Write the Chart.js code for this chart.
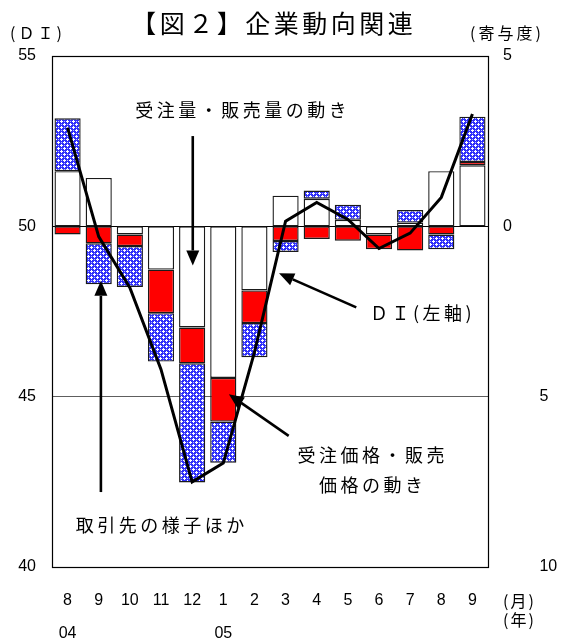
<!DOCTYPE html>
<html>
<head>
<meta charset="utf-8">
<script src="https://cdn.jsdelivr.net/npm/chart.js@4/dist/chart.umd.min.js"></script>
<style>
  html, body { margin: 0; padding: 0; background: #ffffff; }
  #wrap { width: 563px; height: 643px; position: relative; }
</style>
</head>
<body>
<div id="wrap"><canvas id="c" width="563" height="643"></canvas></div>
<script>
// Months (2004/8 - 2005/9) and year markers under them
const months = ['8', '9', '10', '11', '12', '1', '2', '3', '4', '5', '6', '7', '8', '9'];
const years  = ['04', '', '', '', '', '05', '', '', '', '', '', '', '', ''];

// DI (left axis)
const diValues = [52.9, 49.7, 48.2, 45.8, 42.5, 43.05, 46.3, 50.15, 50.7, 50.2, 49.35, 49.8, 50.85, 53.3];

// Contributions (right axis, stacked)
const otherFactors  = [1.62, 1.42, -0.24, -1.27, -2.97, -4.45, -1.88, 0.9, 0.81, 0.19, -0.24, 0.11, 1.62, 1.79];
const priceFactors  = [-0.24, -0.5, -0.34, -1.28, -1.05, -1.28, -0.96, -0.43, -0.37, -0.42, -0.43, -0.71, -0.24, 0.1];
const volumeFactors = [1.55, -1.2, -1.2, -1.42, -3.5, -1.21, -1.0, -0.32, 0.24, 0.44, 0, 0.37, -0.43, 1.33];

// Tick values
const diTicks = [40, 45, 50, 55];
const contribTicks = [-10, -5, 0, 5];

const JP = "'Noto Sans CJK JP', 'Liberation Sans', sans-serif";
const NUM = "'Liberation Sans', 'Noto Sans CJK JP', sans-serif";

// Blue cross-hatch fill for the volume bars
function makeHatch() {
  const t = document.createElement('canvas');
  t.width = 6; t.height = 6;
  const g = t.getContext('2d');
  g.fillStyle = '#3030fa';
  g.fillRect(0, 0, 6, 6);
  g.fillStyle = '#ffffff';
  const plus = [[1,0],[0,1],[1,1],[2,1],[1,2],[4,3],[3,4],[4,4],[5,4],[4,5]];
  plus.forEach(([x, y]) => g.fillRect(x, y, 1, 1));
  g.fillStyle = '#b8b8ff';
  [[4,1],[1,4]].forEach(([x, y]) => g.fillRect(x, y, 1, 1));
  return g.createPattern(t, 'repeat');
}

// Callouts placed in data space: x = category index, y = DI value
const callouts = [
  { lines: ['受注量・販売量の動き'], x: 5.57, y: 53.4, align: 'center',
    arrow: { from: [4.02, 52.65], to: [4.02, 48.85] } },
  { lines: ['ＤＩ(左軸)'], x: 9.71, y: 47.45, align: 'left',
    arrow: { from: [9.27, 47.62], to: [6.79, 48.62] } },
  { lines: ['受注価格・販売', '価格の動き'], x: 9.74, y: 43.28, align: 'center', lineGap: 0.87,
    arrow: { from: [7.1, 43.85], to: [5.18, 45.07] } },
  { lines: ['取引先の様子ほか'], x: 2.97, y: 41.22, align: 'center',
    arrow: { from: [1.07, 42.2], to: [1.07, 48.4] } }
];

function drawArrow(ctx, x1, y1, x2, y2) {
  const ang = Math.atan2(y2 - y1, x2 - x1);
  const hl = 15, hw = 6.5;
  const bx = x2 - Math.cos(ang) * hl, by = y2 - Math.sin(ang) * hl;
  ctx.beginPath();
  ctx.moveTo(x1, y1);
  ctx.lineTo(bx, by);
  ctx.lineWidth = 2.6;
  ctx.strokeStyle = '#000';
  ctx.stroke();
  ctx.beginPath();
  ctx.moveTo(x2, y2);
  ctx.lineTo(bx + Math.sin(ang) * hw, by - Math.cos(ang) * hw);
  ctx.lineTo(bx - Math.sin(ang) * hw, by + Math.cos(ang) * hw);
  ctx.closePath();
  ctx.fillStyle = '#000';
  ctx.fill();
}

function spacedText(ctx, text, x, y, align, spacing) {
  ctx.letterSpacing = spacing + 'px';
  const w = ctx.measureText(text).width - spacing;
  let sx = x;
  if (align === 'center') sx = x - w / 2;
  else if (align === 'right') sx = x - w;
  ctx.textAlign = 'left';
  ctx.fillText(text, sx, y);
  ctx.letterSpacing = '0px';
}

const framePlugin = {
  id: 'frame',
  beforeDatasetsDraw(chart) {
    const { ctx, chartArea: a } = chart;
    ctx.save();
    ctx.strokeStyle = '#000';
    ctx.lineWidth = 1.2;
    ctx.strokeRect(a.left + 0.5, a.top + 0.5, a.right - a.left, a.bottom - a.top);
    ctx.restore();
  },
  afterDraw(chart) {
    const { ctx, chartArea: a } = chart;
    const xs = chart.scales.x, ys = chart.scales.y;
    ctx.save();
    ctx.fillStyle = '#000';
    ctx.textBaseline = 'middle';

    // Title and axis captions
    ctx.font = '25px ' + JP;
    spacedText(ctx, '【図２】企業動向関連', (a.left + a.right) / 2 + 2, 23, 'center', 3.5);
    ctx.font = '16px ' + JP;
    spacedText(ctx, '(ＤＩ)', 10, 33, 'left', 3);
    spacedText(ctx, '(寄与度)', 470, 33, 'left', 3);
    spacedText(ctx, '(月)', a.right + 15, 601, 'left', 2);
    spacedText(ctx, '(年)', a.right + 15, 620, 'left', 2);

    // Callouts
    ctx.font = '18px ' + JP;
    callouts.forEach(c => {
      const px = xs.getPixelForValue(c.x);
      c.lines.forEach((t, i) => {
        const py = ys.getPixelForValue(c.y - i * (c.lineGap || 0));
        spacedText(ctx, t, px, py, c.align, 3.5);
      });
      const f = c.arrow.from, t = c.arrow.to;
      drawArrow(ctx, xs.getPixelForValue(f[0]), ys.getPixelForValue(f[1]),
                xs.getPixelForValue(t[0]), ys.getPixelForValue(t[1]));
    });
    ctx.restore();
  }
};

const barCommon = {
  yAxisID: 'y2',
  stack: 'contrib',
  borderColor: '#1a1a1a',
  borderWidth: 1.4,
  borderSkipped: false,
  barPercentage: 0.84,
  categoryPercentage: 1.0,
  order: 1
};

const ctx = document.getElementById('c').getContext('2d');
new Chart(ctx, {
  type: 'bar',
  data: {
    labels: months.map((m, i) => years[i] ? [m, '', years[i]] : [m]),
    datasets: [
      { type: 'line', label: 'ＤＩ', data: diValues, yAxisID: 'y',
        borderColor: '#000', borderWidth: 3, pointRadius: 0, tension: 0, order: 0 },
      Object.assign({ label: '取引先の様子ほか', data: otherFactors, backgroundColor: '#ffffff' }, barCommon),
      Object.assign({ label: '受注価格・販売価格の動き', data: priceFactors, backgroundColor: '#ff0000' }, barCommon),
      Object.assign({ label: '受注量・販売量の動き', data: volumeFactors, backgroundColor: makeHatch() }, barCommon)
    ]
  },
  options: {
    responsive: false,
    animation: false,
    devicePixelRatio: 1,
    layout: { padding: { top: 56, left: 0, right: 0, bottom: 0 } },
    plugins: { legend: { display: false }, tooltip: { enabled: false }, title: { display: false } },
    scales: {
      x: {
        stacked: true,
        grid: { display: false, drawTicks: false },
        border: { display: false },
        ticks: { padding: 25, color: '#000', maxRotation: 0, autoSkip: false,
                 font: { family: NUM, size: 16, lineHeight: 1.03 } },
        afterFit(s) { s.height = 76; }
      },
      y: {
        position: 'left',
        min: 40, max: 55,
        afterBuildTicks(s) { s.ticks = diTicks.map(v => ({ value: v })); },
        grid: {
          drawTicks: false,
          lineWidth: 1,
          color: c => c.tick.value === 50 ? '#000000' : (c.tick.value === 45 ? '#5e5e5e' : 'rgba(0,0,0,0)')
        },
        border: { display: false },
        ticks: { padding: 16, color: '#000', font: { family: NUM, size: 16 } },
        afterFit(s) { s.width = 52; }
      },
      y2: {
        position: 'right',
        stacked: true,
        min: -10, max: 5,
        afterBuildTicks(s) { s.ticks = contribTicks.map(v => ({ value: v })); },
        grid: { display: false, drawTicks: false },
        border: { display: false },
        ticks: { padding: 15, color: '#000', font: { family: NUM, size: 16 },
                 callback: v => v < 0 ? '\u3000\u3000 ' + (-v) : String(v) },
        afterFit(s) { s.width = 75; }
      }
    }
  },
  plugins: [framePlugin]
});
</script>
</body>
</html>
